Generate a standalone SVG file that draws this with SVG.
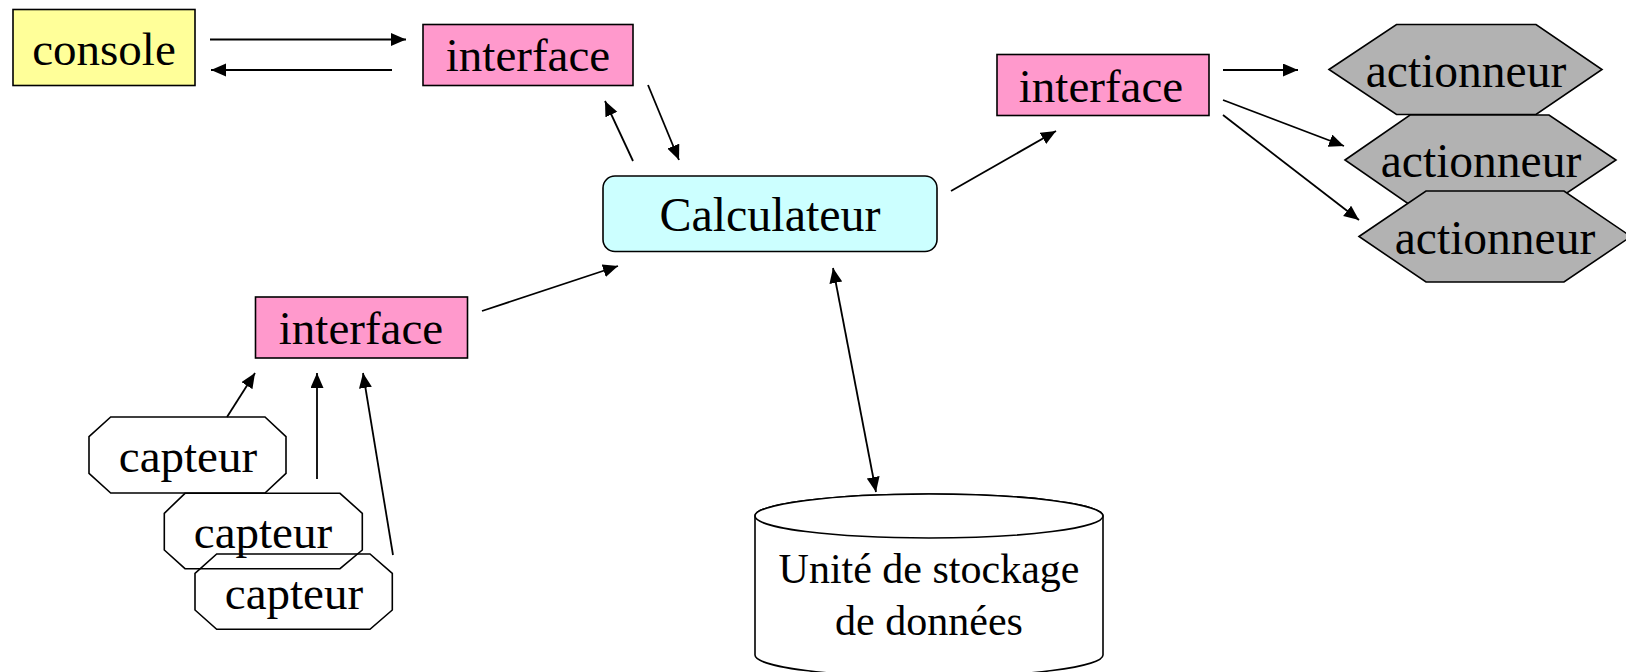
<svg xmlns="http://www.w3.org/2000/svg" width="1626" height="672" viewBox="0 0 1626 672">
  <style>
    .box { stroke: #000; stroke-width: 1.6; }
    .lbl { font-family: "Liberation Serif", "Times New Roman", serif; font-size: 47px; fill: #000; text-anchor: middle; }
    .small { font-size: 42px; }
    .link { stroke: #000; stroke-width: 1.8; fill: none; marker-end: url(#head); }
    .both { marker-start: url(#head); }
    .console { fill: #FFFF99; }
    .iface { fill: #FF99CC; }
    .calc { fill: #CCFFFF; }
    .act { fill: #B2B2B2; }
    .sensor { fill: none; }
    .store { fill: #FFFFFF; }
  </style>
  <defs>
    <marker id="head" markerUnits="userSpaceOnUse" markerWidth="16" markerHeight="14" refX="15" refY="6.5" orient="auto-start-reverse">
      <path d="M0,0 L15,6.5 L0,13 Z" fill="#000"/>
    </marker>
  </defs>
  <rect width="1626" height="672" fill="#FFFFFF"/>

  <!-- connectors -->
  <g id="connectors">
    <line class="link" x1="210" y1="39.5" x2="406" y2="39.5"/>
    <line class="link" x1="392" y1="70" x2="211" y2="70"/>
    <line class="link" x1="633" y1="161" x2="605" y2="101"/>
    <line class="link" x1="648" y1="85" x2="679" y2="160"/>
    <line class="link" x1="482" y1="311" x2="618" y2="266"/>
    <line class="link" x1="951" y1="191" x2="1056" y2="131"/>
    <line class="link" x1="1223" y1="70" x2="1298" y2="70"/>
    <line class="link" x1="1223" y1="100" x2="1344" y2="146"/>
    <line class="link" x1="1223" y1="115" x2="1359" y2="220"/>
    <line class="link both" x1="833" y1="268" x2="876" y2="492"/>
    <line class="link" x1="227" y1="417" x2="255" y2="373"/>
    <line class="link" x1="317" y1="479" x2="317" y2="373"/>
    <line class="link" x1="393" y1="555" x2="363" y2="373"/>
  </g>

  <g id="console">
    <rect class="box console" x="13" y="9.5" width="182" height="76"/>
    <text class="lbl" x="104" y="65">console</text>
  </g>

  <g id="interface-console">
    <rect class="box iface" x="423" y="24.5" width="210" height="61"/>
    <text class="lbl" x="528" y="71">interface</text>
  </g>

  <g id="calculateur">
    <rect class="box calc" x="603" y="176" width="334" height="75.5" rx="12" ry="12"/>
    <text class="lbl" x="770" y="231" style="font-size:48px">Calculateur</text>
  </g>

  <g id="interface-actionneurs">
    <rect class="box iface" x="997" y="54.5" width="212" height="61"/>
    <text class="lbl" x="1101" y="102">interface</text>
  </g>

  <g id="interface-capteurs">
    <rect class="box iface" x="255.5" y="297" width="212" height="61"/>
    <text class="lbl" x="361" y="344">interface</text>
  </g>

  <g id="actionneur-1">
    <polygon class="box act" points="1329,69.5 1396.5,24.5 1536,24.5 1602,69.5 1536,114.5 1396.5,114.5"/>
    <text class="lbl" x="1466" y="87" style="font-size:47.5px">actionneur</text>
  </g>
  <g id="actionneur-2">
    <polygon class="box act" points="1345,160 1410,115 1549,115 1616,160 1549,205 1410,205"/>
    <text class="lbl" x="1481" y="177" style="font-size:47.5px">actionneur</text>
  </g>
  <g id="actionneur-3">
    <polygon class="box act" points="1359,236.5 1426,191 1564,191 1631,236.5 1564,282 1426,282"/>
    <text class="lbl" x="1495" y="253.5" style="font-size:47.5px">actionneur</text>
  </g>

  <g id="capteur-1">
    <polygon class="box sensor" points="110.7,417 265,417 286,436.7 286,473.3 265,493 110.7,493 89,473.3 89,436.7"/>
    <text class="lbl" x="188" y="472">capteur</text>
  </g>
  <g id="capteur-2">
    <polygon class="box sensor" points="185,493.3 340,493.3 362.3,513.3 362.3,550 340,568.7 185,568.7 164.3,550 164.3,513.3"/>
    <text class="lbl" x="263" y="548">capteur</text>
  </g>
  <g id="capteur-3">
    <polygon class="box sensor" points="216.7,554 370,554 392.3,573.3 392.3,610 370,629.3 216.7,629.3 195,610 195,573.3"/>
    <text class="lbl" x="294" y="608.5">capteur</text>
  </g>

  <g id="stockage">
    <path class="box store" d="M755,516 L755,655 A174,22 0 0 0 1103,655 L1103,516 A174,22 0 0 0 755,516 Z"/>
    <ellipse class="box store" cx="929" cy="516" rx="174" ry="22"/>
    <text class="lbl small" x="929" y="583">Unité de stockage</text>
    <text class="lbl small" x="929" y="635">de données</text>
  </g>
</svg>
